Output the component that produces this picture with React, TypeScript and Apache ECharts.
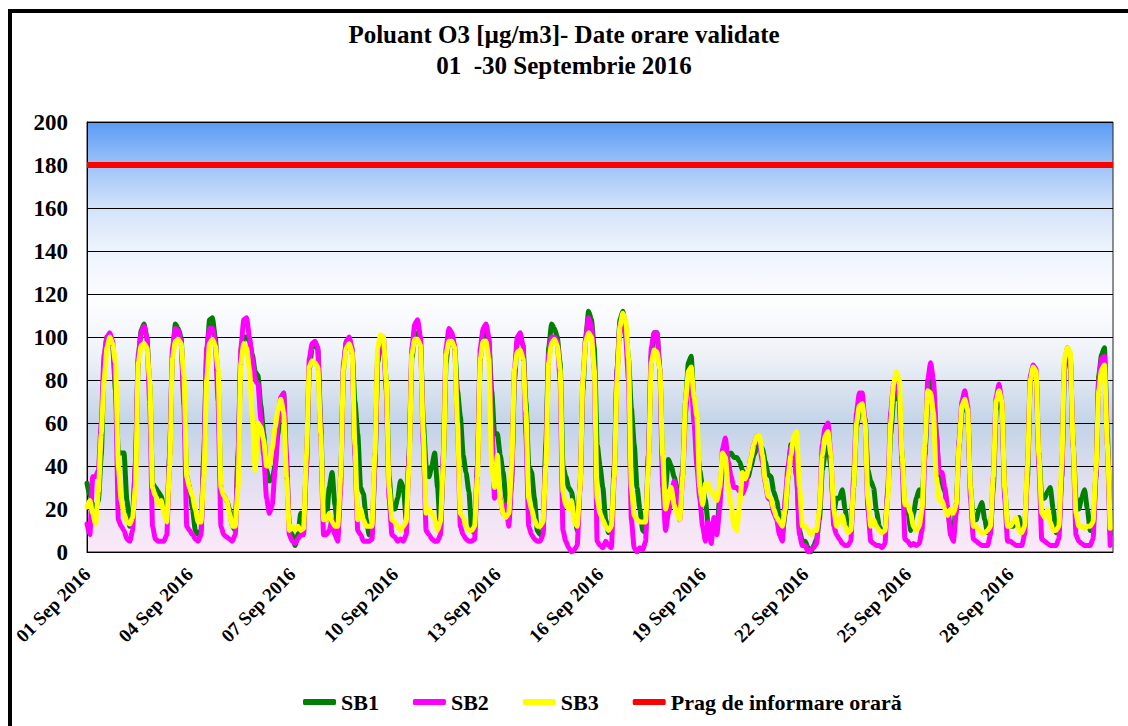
import React, { useEffect, useRef } from "react";
import * as echarts from "echarts";

const titleText = "Poluant O3 [µg/m3]- Date orare validate\n01  -30 Septembrie 2016";
const seriesNames = ["SB1", "SB2", "SB3", "Prag de informare orară"];
const seriesColors = ["#008000", "#FF00FF", "#FFFF00", "#FF0000"];
const tickLabels = [
  "01 Sep 2016", "04 Sep 2016", "07 Sep 2016", "10 Sep 2016", "13 Sep 2016",
  "16 Sep 2016", "19 Sep 2016", "22 Sep 2016", "25 Sep 2016", "28 Sep 2016",
];
const stepHours = 2; // one value every 2 hours, 12 per day
const totalHours = 720;
const threshold = 180;

// SB1, 2-hour values (00,02,...,22 h) for 01..30 Sep 2016
const sb1 = [
  32, 26, 22, 20, 24, 45, 88, 100, 100, 96, 75, 46,
  46, 46, 24, 12, 18, 40, 90, 103, 106, 100, 78, 32,
  30, 28, 26, 20, 15, 45, 92, 106, 104, 100, 72, 35,
  30, 20, 10, 8, 10, 45, 92, 108, 109, 100, 78, 28,
  26, 24, 20, 12, 10, 45, 90, 100, 100, 98, 92, 84,
  82, 68, 55, 38, 33, 34, 40, 55, 70, 74, 40, 12,
  8, 3, 8, 18, 12, 40, 85, 95, 97, 94, 60, 15,
  15, 30, 37, 22, 10, 35, 85, 98, 99, 94, 70, 55,
  30, 27, 15, 8, 8, 40, 88, 97, 97, 80, 35, 20,
  20, 25, 33, 30, 15, 45, 90, 100, 102, 98, 60, 40,
  35, 40, 46, 30, 10, 40, 88, 100, 100, 95, 75, 63,
  45, 37, 28, 10, 9, 40, 90, 102, 102, 98, 75, 55,
  55, 45, 37, 25, 15, 35, 80, 98, 100, 96, 70, 40,
  37, 25, 10, 8, 10, 50, 95, 106, 104, 100, 88, 40,
  35, 30, 28, 20, 10, 30, 75, 100, 112, 108, 95, 50,
  40, 30, 15, 9, 12, 40, 85, 108, 112, 105, 90, 67,
  50, 30, 20, 10, 9, 45, 92, 102, 102, 85, 40, 30,
  43, 40, 35, 30, 22, 38, 70, 88, 91, 70, 50, 38,
  30, 24, 12, 9, 9, 10, 25, 38, 42, 45, 46, 44,
  44, 42, 38, 35, 35, 40, 45, 48, 50, 48, 42, 36,
  35, 28, 24, 15, 9, 18, 35, 50, 48, 35, 10, 5,
  5, 2, 0, 3, 6, 15, 38, 46, 49, 40, 18, 25,
  25, 29, 20, 10, 9, 30, 58, 66, 67, 62, 38, 33,
  30, 19, 12, 9, 10, 28, 55, 70, 74, 70, 45, 18,
  20, 10, 18, 25, 29, 25, 45, 70, 81, 76, 55, 35,
  32, 28, 20, 10, 10, 22, 50, 65, 70, 66, 30, 15,
  15, 20, 23, 15, 9, 10, 30, 66, 73, 68, 30, 12,
  12, 12, 14, 16, 9, 12, 35, 80, 86, 84, 45, 25,
  25, 28, 30, 20, 9, 10, 35, 85, 92, 90, 50, 25,
  20, 25, 29, 20, 10, 10, 35, 82, 92, 95, 55, 8,
];

const sb2 = [
  13, 8, 35, 35, 38, 60, 92, 100, 102, 98, 78, 15,
  12, 10, 6, 5, 10, 42, 92, 102, 105, 100, 70, 12,
  6, 5, 5, 5, 8, 45, 95, 104, 103, 98, 68, 12,
  10, 8, 6, 5, 8, 45, 95, 104, 104, 98, 70, 12,
  8, 7, 6, 5, 8, 45, 95, 108, 109, 100, 90, 80,
  78, 62, 45, 25, 18, 22, 38, 60, 72, 74, 45, 8,
  5, 4, 6, 8, 8, 40, 90, 97, 98, 95, 55, 8,
  8, 10, 15, 8, 5, 30, 88, 98, 100, 95, 45, 10,
  8, 5, 5, 5, 6, 40, 90, 98, 100, 75, 25, 8,
  7, 5, 6, 5, 8, 45, 95, 106, 108, 100, 50, 10,
  8, 6, 5, 5, 8, 45, 95, 104, 102, 96, 60, 12,
  8, 6, 5, 5, 6, 40, 95, 104, 106, 100, 60, 25,
  35, 25, 18, 22, 12, 32, 85, 100, 102, 96, 55, 12,
  8, 6, 5, 5, 8, 45, 92, 100, 100, 98, 80, 10,
  5, 2, 0, 1, 3, 30, 80, 100, 109, 105, 85, 5,
  3, 2, 5, 3, 2, 35, 85, 106, 108, 100, 80, 15,
  2, 0, 2, 1, 5, 45, 95, 102, 102, 85, 30, 10,
  18, 25, 33, 28, 15, 35, 65, 78, 80, 60, 40, 25,
  12, 5, 14, 4, 16, 8, 20, 48, 53, 42, 35, 30,
  30, 28, 27, 30, 38, 44, 50, 54, 50, 42, 32, 25,
  24, 18, 15, 8, 5, 25, 40, 49, 45, 35, 8, 3,
  3, 0, 1, 2, 4, 20, 50, 58, 60, 45, 12, 8,
  6, 4, 3, 3, 5, 35, 65, 74, 74, 60, 20, 5,
  4, 3, 3, 2, 4, 30, 65, 78, 80, 72, 40, 6,
  5, 3, 4, 3, 4, 10, 45, 80, 88, 80, 55, 37,
  37, 30, 20, 8, 5, 18, 52, 70, 75, 68, 25, 6,
  5, 4, 3, 3, 3, 8, 35, 72, 78, 70, 25, 5,
  5, 4, 3, 3, 3, 8, 40, 82, 87, 85, 40, 6,
  5, 4, 3, 3, 3, 6, 35, 88, 95, 92, 50, 8,
  5, 4, 3, 3, 3, 6, 35, 80, 90, 91, 50, 3,
];

const sb3 = [
  21, 24, 18, 13, 28, 55, 80, 95, 100, 97, 88, 40,
  24, 18, 14, 13, 16, 30, 88, 96, 97, 95, 80, 30,
  26, 22, 24, 18, 14, 40, 90, 98, 99, 97, 82, 35,
  30, 26, 20, 14, 14, 35, 80, 97, 99, 96, 85, 30,
  26, 24, 18, 12, 12, 30, 88, 97, 95, 85, 63, 38,
  60, 58, 52, 40, 40, 48, 58, 66, 71, 65, 35, 10,
  12, 10, 12, 10, 11, 45, 86, 89, 88, 86, 55, 15,
  15, 18, 14, 12, 12, 35, 85, 95, 97, 93, 50, 15,
  20, 15, 12, 12, 12, 45, 95, 101, 100, 80, 30, 15,
  14, 12, 10, 12, 14, 40, 92, 99, 99, 96, 55, 18,
  20, 18, 15, 10, 14, 40, 92, 98, 98, 95, 60, 18,
  16, 12, 10, 10, 12, 35, 90, 98, 98, 90, 40, 30,
  45, 24, 18, 16, 18, 40, 85, 93, 94, 90, 65, 25,
  20, 15, 12, 12, 14, 40, 88, 97, 99, 96, 85, 28,
  22, 20, 24, 14, 12, 30, 80, 98, 102, 100, 85, 25,
  18, 15, 12, 10, 12, 35, 80, 105, 111, 108, 90, 30,
  17, 15, 14, 14, 14, 40, 88, 94, 93, 85, 45, 20,
  25, 30, 22, 18, 15, 35, 70, 84, 86, 72, 63, 30,
  22, 32, 32, 28, 26, 24, 30, 46, 44, 30, 22, 12,
  10, 22, 37, 34, 38, 44, 50, 54, 54, 45, 33, 26,
  25, 20, 16, 14, 12, 20, 35, 45, 54, 56, 30, 12,
  12, 10, 8, 10, 10, 20, 45, 54, 56, 45, 20, 12,
  15, 17, 12, 9, 10, 30, 60, 68, 69, 60, 25, 12,
  15, 12, 10, 9, 10, 25, 60, 78, 84, 80, 45, 22,
  22, 18, 12, 10, 12, 20, 50, 75, 74, 65, 35, 24,
  24, 20, 17, 20, 18, 22, 50, 68, 71, 66, 30, 12,
  12, 10, 9, 9, 10, 12, 35, 70, 75, 70, 30, 12,
  12, 14, 16, 10, 9, 12, 40, 80, 86, 84, 45, 18,
  16, 20, 14, 10, 10, 12, 40, 90, 95, 93, 50, 18,
  12, 12, 11, 12, 12, 14, 38, 75, 85, 87, 50, 11,
];

const FONT = "Liberation Serif, serif";

export default function App() {
  const ref = useRef<HTMLDivElement>(null);

  useEffect(() => {
    if (!ref.current) return;
    const chart = echarts.init(ref.current, null, { renderer: "svg" });
    const toPts = (arr: number[]) => arr.map((v, i) => [i * stepHours, v]);
    const lines = [sb1, sb2, sb3];

    const series: any[] = lines.map((arr, k) => ({
      name: seriesNames[k],
      type: "line",
      data: toPts(arr),
      showSymbol: false,
      smooth: 0.2,
      smoothMonotone: "x",
      lineStyle: { color: seriesColors[k], width: 5, cap: "round", join: "round" },
      itemStyle: { color: seriesColors[k] },
      z: 3 + k,
    }));
    series.push({
      name: seriesNames[3],
      type: "line",
      data: [[0, threshold], [totalHours, threshold]],
      showSymbol: false,
      lineStyle: { color: seriesColors[3], width: 6 },
      itemStyle: { color: seriesColors[3] },
      z: 2,
    });

    chart.setOption({
      animation: false,
      backgroundColor: "#ffffff",
      textStyle: { fontFamily: FONT },
      title: {
        text: titleText,
        left: "center",
        top: 14,
        textStyle: { fontFamily: FONT, fontSize: 25, fontWeight: "bold", color: "#000", lineHeight: 31 },
      },
      legend: {
        data: seriesNames,
        left: 298,
        top: 686,
        icon: "roundRect",
        itemWidth: 33,
        itemHeight: 6,
        itemGap: 34,
        textStyle: { fontFamily: FONT, fontSize: 22, fontWeight: "bold", color: "#000" },
      },
      grid: {
        left: 87,
        right: 15,
        top: 122,
        bottom: 174,
        show: true,
        borderColor: "#222",
        borderWidth: 1,
        backgroundColor: new echarts.graphic.LinearGradient(0, 0, 0, 1, [
          { offset: 0, color: "#5A9BF6" },
          { offset: 0.1, color: "#9DC3F8" },
          { offset: 0.2, color: "#D3E3FA" },
          { offset: 0.3, color: "#EEF4FC" },
          { offset: 0.42, color: "#FDFDFF" },
          { offset: 0.55, color: "#EDF1F7" },
          { offset: 0.7, color: "#C3D3E7" },
          { offset: 0.8, color: "#D9DCEE" },
          { offset: 0.9, color: "#EEE3F3" },
          { offset: 1, color: "#FBE9F8" },
        ]),
      },
      xAxis: {
        type: "value",
        min: 0,
        max: totalHours,
        interval: 72,
        axisLine: { show: true, lineStyle: { color: "#000", width: 1 } },
        axisTick: { show: false },
        splitLine: { show: false },
        axisLabel: {
          rotate: 45,
          margin: 19,
          fontFamily: FONT,
          fontSize: 19,
          fontWeight: "bold",
          color: "#000",
          showMaxLabel: false,
          formatter: (v: number) => {
            const i = Math.round(v / 72);
            return tickLabels[i] ?? "";
          },
        },
      },
      yAxis: {
        type: "value",
        min: 0,
        max: 200,
        interval: 20,
        axisLine: { show: true, lineStyle: { color: "#000", width: 1 } },
        axisTick: { show: false },
        splitLine: { show: true, lineStyle: { color: "#000", width: 1 } },
        axisLabel: {
          margin: 19,
          fontFamily: FONT,
          fontSize: 23,
          fontWeight: "bold",
          color: "#000",
        },
      },
      graphic: [
        { type: "line", shape: { x1: 8, y1: 11, x2: 1128, y2: 11 }, style: { stroke: "#000", lineWidth: 4 }, z: 100 },
        { type: "line", shape: { x1: 10, y1: 9, x2: 10, y2: 726 }, style: { stroke: "#000", lineWidth: 4 }, z: 100 },
      ],
      series,
    });

    return () => chart.dispose();
  }, []);

  return (
    <div
      ref={ref}
      style={{ position: "absolute", left: 0, top: 0, width: 1128, height: 726 }}
    />
  );
}
